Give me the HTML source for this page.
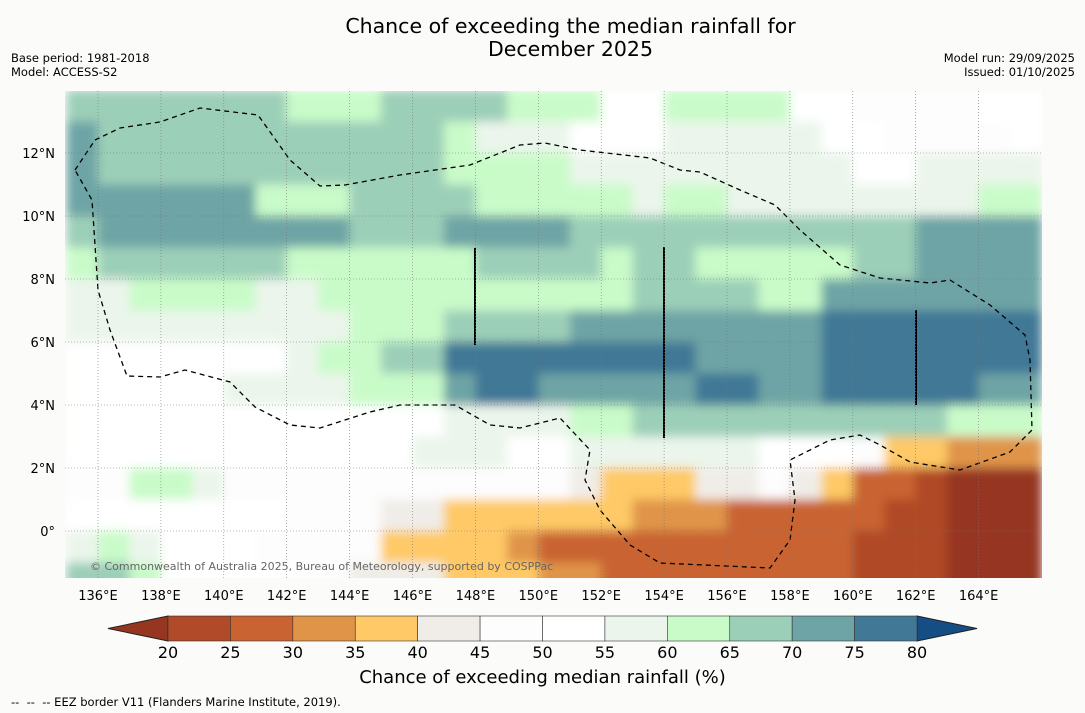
<!DOCTYPE html>
<html><head><meta charset="utf-8">
<style>
html,body{margin:0;padding:0;background:#fbfcfa;}
body{width:1085px;height:713px;overflow:hidden;position:relative;font-family:"DejaVu Sans","Liberation Sans",sans-serif;}
.t{position:absolute;white-space:nowrap;color:#000;}
</style></head>
<body>
<div class="t" style="left:0;width:1141px;text-align:center;top:15px;font-size:20.5px;line-height:23px;">Chance of exceeding the median rainfall for<br>December 2025</div>
<div class="t" style="left:11px;top:51px;font-size:11.5px;line-height:14px;">Base period: 1981-2018<br>Model: ACCESS-S2</div>
<div class="t" style="right:10px;top:51px;font-size:11.5px;line-height:14px;text-align:right;">Model run: 29/09/2025<br>Issued: 01/10/2025</div>
<svg id="chart" width="1085" height="713" style="position:absolute;left:0;top:0;"></svg>
<div class="t" style="left:0;width:1085px;text-align:center;top:667px;font-size:18px;">Chance of exceeding median rainfall (%)</div>
<div class="t" style="left:11px;top:695px;font-size:11.5px;">-- &nbsp;-- &nbsp;-- EEZ border V11 (Flanders Marine Institute, 2019).</div>
<script>
const lons=[135.5,136.5,137.5,138.5,139.5,140.5,141.5,142.5,143.5,144.5,145.5,146.5,147.5,148.5,149.5,150.5,151.5,152.5,153.5,154.5,155.5,156.5,157.5,158.5,159.5,160.5,161.5,162.5,163.5,164.5,165.5];
const lats=[13.5,12.5,11.5,10.5,9.5,8.5,7.5,6.5,5.5,4.5,3.5,2.5,1.5,0.5,-0.5,-1.5];
const values=[
[67,67,67,67,67,67,67,62,62,62,67,67,67,67,62,62,62,52,52,62,62,62,62,52,52,47,47,47,47,52,52],
[72,67,67,67,67,67,67,67,67,67,67,67,62,57,57,57,52,52,52,57,57,57,57,57,52,52,47,47,47,47,52],
[72,67,67,67,67,67,67,67,67,67,67,67,62,62,62,62,57,57,57,57,57,57,57,57,57,52,52,57,57,57,57],
[72,72,72,72,72,72,62,62,62,67,67,67,67,62,62,62,62,62,57,62,62,57,57,57,57,57,57,57,57,62,62],
[67,72,72,72,72,72,72,72,72,67,67,67,72,72,72,72,67,67,67,67,67,67,67,67,67,67,67,72,72,72,72],
[62,67,67,67,67,67,67,62,62,62,62,62,62,67,67,67,67,62,67,67,62,62,62,62,62,67,67,72,72,72,72],
[57,57,62,62,62,62,57,57,62,62,62,62,62,62,62,62,62,62,67,67,67,67,62,62,72,72,72,72,72,72,72],
[57,57,57,57,57,57,57,57,57,62,62,62,67,67,67,67,72,72,72,72,72,72,72,72,77,77,77,77,77,77,77],
[52,52,52,52,52,52,52,57,62,62,67,67,77,77,77,77,77,77,77,77,72,72,72,72,77,77,77,77,77,77,77],
[52,52,52,52,52,57,57,57,57,62,62,62,72,77,77,72,72,72,72,72,77,77,72,72,77,77,77,77,77,72,72],
[52,52,52,52,52,52,52,52,52,52,52,52,57,57,57,57,62,62,67,67,67,67,67,67,67,67,67,67,62,62,62],
[52,52,52,52,52,52,52,52,52,52,52,57,57,57,52,52,57,57,57,57,57,57,52,52,52,47,37,37,32,32,32],
[47,47,62,62,57,47,47,47,47,47,47,47,47,47,47,47,42,37,37,37,42,42,47,42,37,27,27,22,17,17,17],
[52,52,52,52,52,52,52,47,47,47,42,42,37,37,37,37,37,37,32,32,32,27,27,27,27,27,22,22,17,17,17],
[57,62,57,52,52,52,47,47,47,47,37,37,37,37,32,27,27,27,27,27,27,27,27,27,27,22,22,22,17,17,17],
[67,67,62,52,52,52,52,47,47,42,42,42,37,37,37,32,32,27,27,27,27,27,27,27,27,22,22,22,17,17,17]
];
const cbTicks=[20,25,30,35,40,45,50,55,60,65,70,75,80];
const latTicks=[12,10,8,6,4,2,0];
const lonTicks=[136,138,140,142,144,146,148,150,152,154,156,158,160,162,164];
const colors=["#963520","#b04a28","#c96332","#e09448","#fec966","#f0ede8","#fdfdfd","#ffffff","#ebf5eb","#c9fbc9","#9ccfb8","#6ea4a5","#417896","#144e85"];
const NS="http://www.w3.org/2000/svg";
const svg=document.getElementById('chart');
const FF='DejaVu Sans, Liberation Sans, sans-serif';
const X0=65,X1=1042,Y0=91,Y1=578;
const xs=lon=>98+(lon-136)*31.45;
const ys=lat=>531-lat*31.5;
function mk(tag,attrs,parent){const e=document.createElementNS(NS,tag);for(const k in attrs)e.setAttribute(k,attrs[k]);(parent||svg).appendChild(e);return e;}
function colorFor(v){if(v<20)return colors[0];if(v>=80)return colors[13];return colors[1+Math.floor((v-20)/5)];}
const defs=mk('defs',{});
const clip=mk('clipPath',{id:'mc'},defs);mk('rect',{x:X0,y:Y0,width:X1-X0,height:Y1-Y0},clip);
const flt=mk('filter',{id:'bl',x:'-5%',y:'-5%',width:'110%',height:'110%'},defs);
mk('feGaussianBlur',{stdDeviation:5,edgeMode:'duplicate'},flt);
const outer=mk('g',{'clip-path':'url(#mc)'});
const g=mk('g',{filter:'url(#bl)'},outer);
values.forEach((row,i)=>row.forEach((v,j)=>{
  const x=xs(lons[j]-0.5),y=ys(lats[i]+0.5);
  const r=mk('rect',{x:x,y:y,width:31.45+0.6,height:31.5+0.6,fill:colorFor(v),'shape-rendering':'crispEdges'},g);
  
  
}));
lonTicks.forEach(l=>{const ln=mk('line',{x1:xs(l),x2:xs(l),y1:Y0,y2:Y1,stroke:'#777','stroke-width':0.6,'stroke-dasharray':'1,2'});

const t=mk('text',{x:xs(l),y:600,'font-size':13,'text-anchor':'middle','font-family':FF});t.textContent=l+'°E';
});
latTicks.forEach(l=>{const ln=mk('line',{x1:X0,x2:X1,y1:ys(l),y2:ys(l),stroke:'#777','stroke-width':0.6,'stroke-dasharray':'1,2'});

const t=mk('text',{x:55,y:ys(l)+5,'font-size':13,'text-anchor':'end','font-family':FF});t.textContent=l===0?'0°':l+'°N';
});
const eez="M75,170 L95,140 L120,128 L160,122 L200,108 L258,115 L290,160 L320,186 L345,185 L400,175 L470,165 L520,145 L545,143 L580,150 L650,158 L680,170 L700,172 L740,190 L775,205 L800,230 L840,265 L880,278 L930,283 L950,280 L990,305 L1025,335 L1030,360 L1032,430 L1010,452 L960,470 L910,462 L880,445 L860,435 L830,440 L790,460 L795,500 L790,540 L770,568 L660,563 L630,545 L600,510 L585,480 L590,450 L560,418 L520,428 L490,425 L455,405 L400,405 L370,412 L320,428 L290,425 L255,407 L230,382 L185,370 L160,377 L127,376 L110,330 L98,290 L92,200 Z";
mk('path',{d:eez,fill:'none',stroke:'#000','stroke-width':1.3,'stroke-dasharray':'5,4',},outer);
[[475,248,345],[664,247,438],[916,310,405]].forEach(a=>mk('line',{x1:a[0],x2:a[0],y1:a[1],y2:a[2],stroke:'#000','stroke-width':2,},outer));
const cp=mk('text',{x:90,y:570,'font-size':11,fill:'#666','font-family':FF,});
cp.textContent='© Commonwealth of Australia 2025, Bureau of Meteorology, supported by COSPPac';
const cx=v=>168+(v-20)*(749/60);
const CY0=616,CY1=641;
mk('polygon',{points:`108,628.5 168,${CY0} 168,${CY1}`,fill:colors[0],stroke:'#222','stroke-width':1,});
mk('polygon',{points:`977,628.5 917,${CY0} 917,${CY1}`,fill:colors[13],stroke:'#222','stroke-width':1,});
for(let i=0;i<cbTicks.length-1;i++){
  const r=mk('rect',{x:cx(cbTicks[i]),y:CY0,width:cx(cbTicks[i+1])-cx(cbTicks[i]),height:CY1-CY0,fill:colors[i+1],stroke:'#333','stroke-width':0.6});
  
}
cbTicks.forEach(v=>{const t=mk('text',{x:cx(v),y:658,'font-size':16,'text-anchor':'middle','font-family':FF});t.textContent=v;
});
</script>
</body></html>
